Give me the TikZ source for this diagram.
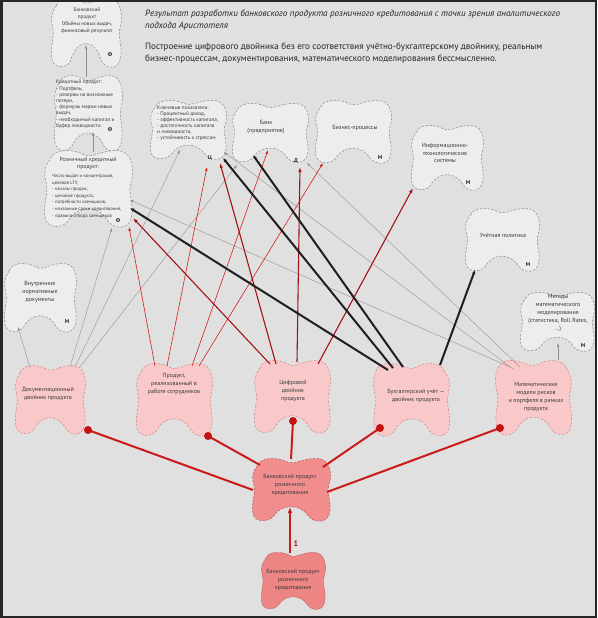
\documentclass[tikz,border=0pt]{standalone}
\usepackage{fontspec}
\setmainfont{PT Sans}
\usetikzlibrary{arrows.meta}
\definecolor{bgc}{HTML}{E0E0E0}
\definecolor{blobgrey}{HTML}{EDEDED}
\definecolor{dashgrey}{HTML}{8A8A8A}
\definecolor{pinkfill}{HTML}{F9C9C9}
\definecolor{pinkdash}{HTML}{D58585}
\definecolor{qfill}{HTML}{F28D8D}
\definecolor{qdash}{HTML}{B05A5A}
\definecolor{rfill}{HTML}{EE8585}
\definecolor{rdraw}{HTML}{C86060}
\definecolor{linered}{HTML}{D42020}
\definecolor{darkred}{HTML}{A3121A}
\definecolor{qred}{HTML}{CC1A1A}
\definecolor{dotred}{HTML}{C41010}
\definecolor{linegrey}{HTML}{8C8C8C}
\definecolor{txtgrey}{HTML}{3A3A3A}
\newcommand{\myblob}[6]{%
 \path[#1,shift={(#2,#3)},xscale=#4,yscale=#5]
  (-0.85,-0.78) .. controls (-0.78,-1.05) and (-0.3,-1.02) .. (-0.1,-0.88)
  .. controls (0.1,-0.76) and (0.35,-1.05) .. (0.75,-0.97)
  .. controls (1.02,-0.9) and (1.06,-0.45) .. (0.97,-0.15)
  .. controls (0.9,0.12) and (1.06,0.4) .. (0.98,0.75)
  .. controls (0.92,1.04) and (0.6,1.04) .. (0.45,0.82)
  .. controls (0.25,#6) and (-0.25,#6) .. (-0.45,0.82)
  .. controls (-0.6,1.04) and (-0.97,1.0) .. (-0.98,0.7)
  .. controls (-1.02,0.3) and (-0.88,0.12) .. (-0.96,-0.2)
  .. controls (-1.02,-0.5) and (-0.95,-0.62) .. (-0.85,-0.78) -- cycle;}
\tikzset{
 greyblob/.style={fill=blobgrey, draw=dashgrey, dash pattern=on 2.4pt off 1.5pt, line width=0.5pt},
 pinkblob/.style={fill=pinkfill, draw=pinkdash, dash pattern=on 2.4pt off 1.5pt, line width=0.5pt},
 qblob/.style={fill=qfill, draw=qdash, dash pattern=on 2.4pt off 1.5pt, line width=0.5pt},
 rblob/.style={fill=rfill, draw=rdraw, line width=0.4pt},
 hdr/.style={font=\fontsize{9.1}{10}\selectfont, text=black!85, inner sep=0, anchor=west},
 txt/.style={font=\fontsize{6}{7.8}\selectfont, text=txtgrey, align=center, inner sep=0},
 tinyl/.style={font=\fontsize{4.7}{6.6}\selectfont, text=txtgrey, align=left, inner sep=0, anchor=north west},
 tinyc/.style={font=\fontsize{5.2}{6.8}\selectfont, text=txtgrey, align=center, inner sep=0, anchor=north},
 mk/.style={font=\bfseries\fontsize{5.5}{6}\selectfont, text=black!85, inner sep=0},
 gline/.style={draw=linegrey, line width=0.35pt, -{Latex[length=3.5pt,width=2.4pt]}},
 rline/.style={draw=linered, line width=0.6pt, -{Latex[length=4pt,width=2.8pt]}},
 drline/.style={draw=darkred, line width=1.1pt, -{Latex[length=5pt,width=3.5pt]}},
 bline/.style={draw=black!88, line width=2pt, -{Latex[length=4pt,width=3.6pt]}},
 qline/.style={draw=qred, line width=2pt},
 qarrow/.style={draw=qred, line width=2pt, -{Latex[length=6pt,width=5pt]}},
 rdot/.style={fill=dotred, draw=none},
}
\begin{document}
\begin{tikzpicture}[x=1pt,y=-1pt]
\useasboundingbox (0,0) rectangle (597,618);
\fill[bgc] (0,0) rectangle (597,618);

% ---------- blob shapes ----------
\myblob{greyblob}{86}{33}{35}{35}{0.12}
\myblob{greyblob}{88}{113.5}{34}{38.5}{0.4}
\myblob{greyblob}{88}{189}{44}{39}{0.4}
\myblob{greyblob}{188}{130}{38}{30}{0.4}
\myblob{greyblob}{270}{133}{38}{30}{0.4}
\myblob{greyblob}{353}{132}{38}{32}{0.4}
\myblob{greyblob}{447}{158}{36}{33}{0.4}
\myblob{greyblob}{502}{240}{37}{32}{0.4}
\myblob{greyblob}{557}{322}{37}{30}{0.4}
\myblob{greyblob}{40}{298}{36}{35}{0.4}
\myblob{pinkblob}{50}{400}{35}{35}{0.4}
\myblob{pinkblob}{174}{400}{38}{37}{0.4}
\myblob{pinkblob}{292}{397}{38}{37}{0.4}
\myblob{pinkblob}{412}{400}{-38}{37}{0.4}
\myblob{pinkblob}{534}{398}{-38}{38}{0.4}
\myblob{qblob}{291}{490}{39}{32}{0.42}
\myblob{rblob}{293}{581}{32}{29}{0.45}

% ---------- connection points ----------
\coordinate (p1a) at (30,368);  \coordinate (hIn) at (18,327);
\coordinate (p1b) at (70,367);  \coordinate (a3In1) at (112,228);
\coordinate (p1c) at (75,367);  \coordinate (bIn1) at (180,150);
\coordinate (p1d) at (80,367);  \coordinate (cIn1) at (237,165);
\coordinate (p2a) at (155,366); \coordinate (a3In2) at (129,227);
\coordinate (p2b) at (167,366); \coordinate (bIn2) at (207,167);
\coordinate (p2c) at (192,366); \coordinate (cIn2) at (268,150);
\coordinate (p2d) at (199,366); \coordinate (dIn1) at (323,163);
\coordinate (p3a) at (270,364); \coordinate (a3In3) at (133,218);
\coordinate (p3b) at (276,364); \coordinate (bIn3) at (220,163);
\coordinate (p3c) at (297,362); \coordinate (cIn3) at (300,167);
\coordinate (p3d) at (318,364); \coordinate (eIn) at (413,188);
\coordinate (p4a) at (388,370); \coordinate (a3In4) at (130,208);
\coordinate (p4b) at (393,368); \coordinate (bIn4) at (223,158);
\coordinate (p4c) at (403,367); \coordinate (cIn4) at (253,155);
\coordinate (p4d) at (440,365); \coordinate (fIn) at (475,270);
\coordinate (p5a) at (510,367); \coordinate (a3In5) at (130,200);
\coordinate (p5b) at (513,369); \coordinate (bIn5) at (224,152);
\coordinate (p5c) at (520,367); \coordinate (cIn5) at (307,163);
\coordinate (p5d) at (558,360); \coordinate (gIn) at (558,343);
\coordinate (a3Top) at (93,152); \coordinate (a2Dip) at (93,132);
\coordinate (a2Top) at (86,77);  \coordinate (a1Dip) at (86,45);
\coordinate (d1) at (88,430);  \coordinate (q1) at (253,490);
\coordinate (d2) at (208,436); \coordinate (q2) at (260,465);
\coordinate (d3) at (293,421); \coordinate (q3) at (291,459);
\coordinate (d4) at (380,428); \coordinate (q4) at (323,467);
\coordinate (d5) at (500,428); \coordinate (q5) at (327,492);
\coordinate (rTop) at (290,553); \coordinate (qDip) at (290,507);

% ---------- connectors ----------
\draw[gline] (a3Top) -- (a2Dip);
\draw[gline] (a2Top) -- (a1Dip);
\draw[gline] (p1a) -- (hIn);
\draw[gline] (p1b) -- (a3In1);
\draw[gline] (p1c) -- (bIn1);
\draw[gline] (p1d) -- (cIn1);
\draw[gline] (p5a) -- (a3In5);
\draw[gline] (p5b) -- (bIn5);
\draw[gline] (p5c) -- (cIn5);
\draw[gline] (p5d) -- (gIn);
\draw[rline] (p2a) -- (a3In2);
\draw[rline] (p2b) -- (bIn2);
\draw[rline] (p2c) -- (cIn2);
\draw[rline] (p2d) -- (dIn1);
\draw[drline] (p3a) -- (a3In3);
\draw[drline] (p3b) -- (bIn3);
\draw[drline] (p3c) -- (cIn3);
\draw[drline] (p3d) -- (eIn);
\draw[bline] (p4a) -- (a3In4);
\draw[bline] (p4b) -- (bIn4);
\draw[bline] (p4c) -- (cIn4);
\draw[bline] (p4d) -- (fIn);
\draw[qline] (d1) -- (q1);
\draw[qline] (d2) -- (q2);
\draw[qline] (d3) -- (q3);
\draw[qline] (d4) -- (q4);
\draw[qline] (d5) -- (q5);
\draw[qarrow] (rTop) -- (qDip);
\foreach \d in {d1,d2,d3,d4,d5} \fill[rdot] (\d) circle[radius=4pt];

% ---------- frame ----------
\draw[line width=2.5pt, black!85] (1.25,1.25) rectangle (595.75,616.75);

% ---------- header ----------
\node[hdr] (t1) at (145,14) {\itshape Результат разработки банковского продукта розничного кредитования с точки зрения аналитического};
\node[hdr] (t2) at (145,26) {\itshape подхода Аристотеля};
\node[hdr] (t3) at (145,47) {Построение цифрового двойника без его соответствия учётно-бухгалтерскому двойнику, реальным};
\node[hdr] (t4) at (145,59) {бизнес-процессам, документирования, математического моделирования бессмысленно.};

% ---------- blob texts ----------
\node[tinyc] (A1) at (87,8) {Банковский\\продукт\\Объёмы новых выдач,\\финансовый результат};
\node[tinyl, font=\fontsize{5.2}{6.2}\selectfont] (A2) at (56,80) {Кредитный продукт:\\- Портфель,\\- резервы на возможные\\потери,\\- формулы маржи новых\\выдач,\\- необходимый капитал и\\буфер ликвидности.};
\node[tinyc, font=\fontsize{5.8}{7.4}\selectfont] (A3t) at (88,157) {Розничный кредитный\\продукт:};
\node[tinyl] (A3) at (52,174) {Число выдач и концентрация,\\целевой LTV,\\- каналы продаж,\\- ценовые продукта,\\- потребности заемщиков,\\- начальные сроки кредитования,\\- правила отбора заемщиков};
\node[tinyl, font=\fontsize{5.2}{6}\selectfont] (B) at (157,106) {Ключевые показатели:\\- Процентный доход,\\- эффективность капитала,\\- достаточность капитала\\и ликвидности,\\- устойчивость к стрессам};
\node[txt] (C) at (266,127) {Банк\\(предприятие)};
\node[txt] (D) at (355,128) {Бизнес-процессы};
\node[txt] (E) at (445,153) {Информационно-\\технологические\\системы};
\node[txt] (F) at (503,235) {Учётная политика};
\node[txt] (G) at (558,313) {Методы\\математического\\моделирования\\(статистика, Roll Rates,\\...)};
\node[txt] (H) at (40,292) {Внутренние\\нормативные\\документы};
\node[txt] (P1) at (48,394) {Документационный\\двойник продукта};
\node[txt] (P2) at (174,384) {Продукт,\\реализованный в\\работе сотрудников};
\node[txt] (P3) at (293,391) {Цифровой\\двойник\\продукта};
\node[txt] (P4) at (416,396) {Бухгалтерский учёт —\\двойник продукта};
\node[txt] (P5) at (536,397) {Математические\\модели рисков\\и портфеля в рамках\\продукта};
\node[txt] (Q) at (290,485) {Банковский продукт\\розничного\\кредитования};
\node[txt] (R) at (293,580) {Банковский продукт\\розничного\\кредитования};

% ---------- marks ----------
\node[mk] (mA1) at (110,55) {Ф};
\node[mk] (mA2) at (110,130) {Ф};
\node[mk] (mA3) at (118,221) {Ф};
\node[mk] (mB) at (210,158) {Ц};
\node[mk] (mC) at (296,161) {Д};
\node[mk] (mD) at (380,158) {М};
\node[mk] (mE) at (468,183) {М};
\node[mk] (mF) at (528,265) {М};
\node[mk] (mG) at (583,346) {М};
\node[mk] (mH) at (67,322) {М};
\node[mk, text=darkred, font=\bfseries\fontsize{8}{9}\selectfont] (n1) at (296,544) {1};
\end{tikzpicture}
\end{document}
